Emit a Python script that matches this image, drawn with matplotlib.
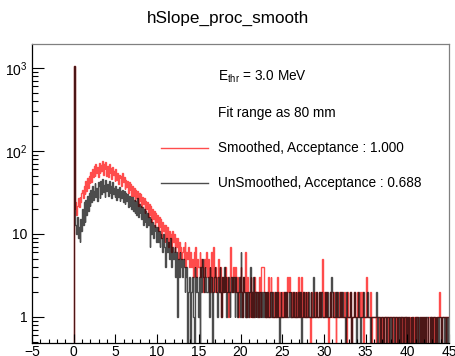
import numpy as np
import matplotlib
matplotlib.use("Agg")
import matplotlib.pyplot as plt
from matplotlib.ticker import MultipleLocator, FixedLocator, FixedFormatter, LogLocator

plt.rcParams['font.family'] = ['Liberation Sans', 'DejaVu Sans']
plt.rcParams['mathtext.fontset'] = 'custom'
plt.rcParams['mathtext.rm'] = 'Liberation Sans'
plt.rcParams['mathtext.default'] = 'regular'

## histogram binning: -5 .. 45, width 0.1 (bins below 0 are empty)
bin_width = 0.1
x_low, x_high = -5.0, 45.0
n_empty = 50

# counts for bins from 0 to 45, one row per unit of x
smoothed = [
    1050, 20, 24, 17, 22, 27, 21, 28, 24, 31,
    34, 27, 38, 30, 44, 33, 47, 36, 50, 41,
    56, 42, 60, 48, 66, 50, 70, 55, 64, 48,
    72, 54, 68, 58, 75, 52, 70, 60, 74, 50,
    66, 48, 70, 55, 62, 46, 64, 52, 58, 44,
    60, 45, 55, 40, 52, 47, 50, 38, 54, 42,
    48, 35, 45, 37, 44, 31, 42, 34, 40, 29,
    38, 29, 36, 25, 34, 27, 33, 22, 31, 25,
    30, 21, 28, 23, 27, 18, 25, 20, 24, 16,
    23, 17, 22, 14, 20, 15, 19, 12, 18, 14,
    17, 11, 16, 12, 15, 9, 14, 11, 13, 8,
    13, 9, 12, 7, 11, 9, 10, 6, 11, 8,
    10, 6, 9, 7, 9, 5, 8, 6, 7, 5,
    6, 7, 5, 8, 4, 6, 5, 7, 4, 5,
    6, 4, 5, 3, 6, 4, 7, 3, 5, 4,
    4, 6, 3, 5, 4, 2, 5, 3, 4, 6,
    3, 5, 2, 4, 3, 6, 2, 7, 3, 2,
    4, 2, 3, 5, 2, 3, 4, 1, 3, 2,
    3, 2, 4, 2, 3, 1, 2, 4, 7, 3,
    2, 4, 3, 2, 4, 2, 3, 1, 2, 3,
    4, 2, 1, 3, 2, 6, 2, 1, 3, 2,
    1, 2, 3, 1, 2, 1, 3, 2, 1, 2,
    2, 1, 3, 2, 1, 4, 4, 4, 2, 1,
    2, 2, 1, 3, 1, 2, 3, 2, 1, 1,
    2, 1, 2, 1, 3, 1, 2, 1, 1, 2,
    1, 2, 1, 2, 1, 1, 3, 2, 3, 2,
    2, 1, 2, 1, 2, 1, 1, 2, 1, 3,
    1, 2, 1, 3, 1, 2, 1, 2, 1, 1,
    2, 1, 1, 0, 1, 2, 1, 1, 2, 1,
    1, 2, 1, 1, 2, 1, 1, 2, 5, 1,
    2, 1, 1, 2, 1, 0, 1, 2, 1, 1,
    1, 2, 1, 1, 0, 2, 1, 1, 2, 1,
    1, 2, 1, 1, 2, 1, 1, 0, 2, 1,
    1, 2, 1, 0, 1, 1, 2, 1, 1, 1,
    2, 1, 1, 2, 1, 1, 2, 0, 1, 1,
    1, 3, 1, 1, 1, 2, 1, 0, 1, 1,
    1, 1, 0, 1, 1, 1, 0, 1, 1, 0,
    1, 0, 1, 1, 0, 1, 1, 0, 1, 1,
    1, 1, 0, 1, 1, 0, 1, 1, 0, 1,
    1, 0, 1, 1, 0, 1, 0, 1, 1, 0,
    1, 0, 1, 0, 0, 1, 0, 1, 0, 1,
    0, 1, 1, 0, 0, 1, 0, 0, 1, 0,
    1, 0, 1, 0, 0, 1, 1, 0, 0, 1,
    0, 1, 0, 1, 1, 0, 1, 1, 2, 1,
    1, 0, 1, 1, 1, 1, 0, 1, 1, 1,
]

unsmoothed = [
    1050, 18, 13, 10, 16, 9, 12, 8, 15, 11,
    20, 13, 24, 14, 26, 17, 29, 19, 31, 22,
    34, 24, 38, 26, 33, 41, 28, 36, 25, 42,
    38, 27, 44, 30, 46, 32, 39, 28, 45, 33,
    40, 29, 44, 31, 38, 27, 42, 30, 36, 28,
    38, 26, 35, 28, 37, 25, 33, 27, 34, 24,
    33, 23, 31, 25, 30, 21, 29, 22, 28, 20,
    28, 19, 26, 18, 25, 17, 27, 16, 23, 18,
    22, 15, 21, 13, 20, 14, 19, 12, 18, 13,
    16, 7, 15, 10, 14, 9, 13, 11, 12, 8,
    12, 8, 11, 7, 10, 9, 6, 10, 7, 5,
    4, 9, 6, 8, 5, 7, 9, 4, 7, 5,
    6, 7, 3, 6, 1, 5, 3, 6, 4, 5,
    3, 5, 4, 2, 3, 4, 0, 2, 3, 1,
    0, 2, 3, 1, 0, 4, 2, 3, 2, 1,
    3, 0, 4, 2, 5, 3, 2, 4, 3, 2,
    2, 3, 1, 4, 2, 3, 0, 2, 3, 4,
    3, 2, 1, 3, 2, 4, 2, 1, 3, 2,
    4, 2, 3, 1, 2, 3, 2, 1, 2, 3,
    2, 3, 2, 1, 3, 2, 1, 2, 3, 1,
    6, 2, 1, 3, 2, 1, 2, 1, 2, 1,
    2, 4, 1, 2, 1, 3, 1, 2, 1, 2,
    1, 2, 1, 2, 1, 1, 2, 1, 2, 1,
    2, 1, 2, 1, 1, 2, 1, 1, 2, 1,
    1, 2, 1, 1, 2, 1, 0, 1, 2, 1,
    1, 1, 2, 1, 1, 2, 1, 1, 2, 1,
    2, 1, 1, 2, 1, 1, 2, 1, 1, 2,
    1, 2, 1, 0, 1, 2, 1, 1, 2, 1,
    1, 2, 1, 1, 2, 1, 1, 3, 1, 1,
    1, 2, 1, 1, 2, 1, 1, 2, 1, 1,
    1, 2, 1, 1, 2, 1, 1, 2, 1, 3,
    2, 1, 1, 2, 1, 1, 2, 1, 1, 2,
    1, 1, 2, 1, 1, 0, 1, 2, 1, 1,
    1, 2, 1, 0, 1, 1, 2, 1, 1, 0,
    1, 2, 1, 0, 1, 1, 1, 2, 1, 1,
    1, 1, 2, 1, 1, 0, 1, 1, 1, 1,
    1, 1, 1, 2, 0, 1, 1, 0, 1, 1,
    1, 0, 1, 1, 1, 0, 1, 1, 0, 1,
    1, 0, 1, 1, 0, 1, 1, 1, 0, 1,
    0, 1, 0, 1, 1, 0, 1, 1, 0, 1,
    0, 1, 0, 0, 1, 0, 1, 0, 0, 1,
    0, 0, 1, 0, 1, 0, 0, 1, 0, 1,
    0, 1, 0, 1, 1, 0, 0, 1, 0, 1,
    0, 1, 1, 0, 1, 0, 1, 0, 1, 1,
    1, 0, 1, 1, 0, 1, 1, 0, 1, 0,
]

title = "hSlope_proc_smooth"
label_smooth = "Smoothed, Acceptance : 1.000"
label_unsmooth = "UnSmoothed, Acceptance : 0.688"
text_ethr = r"E$_{thr}$ = 3.0 MeV"
text_fit = "Fit range as 80 mm"

edges = np.linspace(x_low, x_high, int(round((x_high - x_low) / bin_width)) + 1)
h_smooth = np.concatenate([np.zeros(n_empty), smoothed])
h_unsmooth = np.concatenate([np.zeros(n_empty), unsmoothed])

fig = plt.figure(figsize=(4.56, 3.56), dpi=100)
ax = fig.add_axes([32/456, 13/356, 417/456, 299/356])

red = (1.0, 0.0, 0.0, 0.7)
blk = (0.0, 0.0, 0.0, 0.7)
ax.stairs(h_smooth, edges, baseline=None, color=red, lw=1.0)
ax.stairs(h_unsmooth, edges, baseline=None, color=blk, lw=1.0)

ax.set_yscale('log', nonpositive='clip')
ax.set_xlim(x_low, x_high)
ax.set_ylim(0.486, 1946)

ax.xaxis.set_major_locator(MultipleLocator(5))
ax.xaxis.set_minor_locator(MultipleLocator(1))
ax.yaxis.set_major_locator(FixedLocator([1, 10, 100, 1000]))
ax.yaxis.set_major_formatter(FixedFormatter(['1', '10', '$10^{2}$', '$10^{3}$']))
ax.yaxis.set_minor_locator(LogLocator(base=10, subs=np.arange(2, 10)))
ax.yaxis.set_minor_formatter(FixedFormatter([]))

ax.tick_params(axis='both', which='both', direction='in', top=False, right=False,
               labelsize=10, width=0.8)
ax.tick_params(axis='x', which='major', length=6.5, pad=1.5)
ax.tick_params(axis='x', which='minor', length=3)
ax.tick_params(axis='y', which='major', length=8.6, pad=3)
ax.tick_params(axis='y', which='minor', length=4.3)

for s in ['left', 'bottom']:
    ax.spines[s].set_color('black')
    ax.spines[s].set_linewidth(0.9)
for s in ['top', 'right']:
    ax.spines[s].set_color('#808080')
    ax.spines[s].set_linewidth(0.9)

# legend drawn by hand, ROOT style without frame
fs = 9.8
ax.text(0.446, 0.890, text_ethr, transform=ax.transAxes, fontsize=fs, va='center')
ax.text(0.446, 0.769, text_fit, transform=ax.transAxes, fontsize=fs, va='center')
ax.plot([0.309, 0.422], [0.652, 0.652], transform=ax.transAxes, color=red, lw=1.0)
ax.text(0.446, 0.652, label_smooth, transform=ax.transAxes, fontsize=fs, va='center')
ax.plot([0.309, 0.422], [0.535, 0.535], transform=ax.transAxes, color=blk, lw=1.0)
ax.text(0.446, 0.535, label_unsmooth, transform=ax.transAxes, fontsize=fs, va='center')

fig.text(0.5, 1 - 18/356, title, ha='center', va='center', fontsize=12.3)

fig.savefig("out.png", dpi=100)
